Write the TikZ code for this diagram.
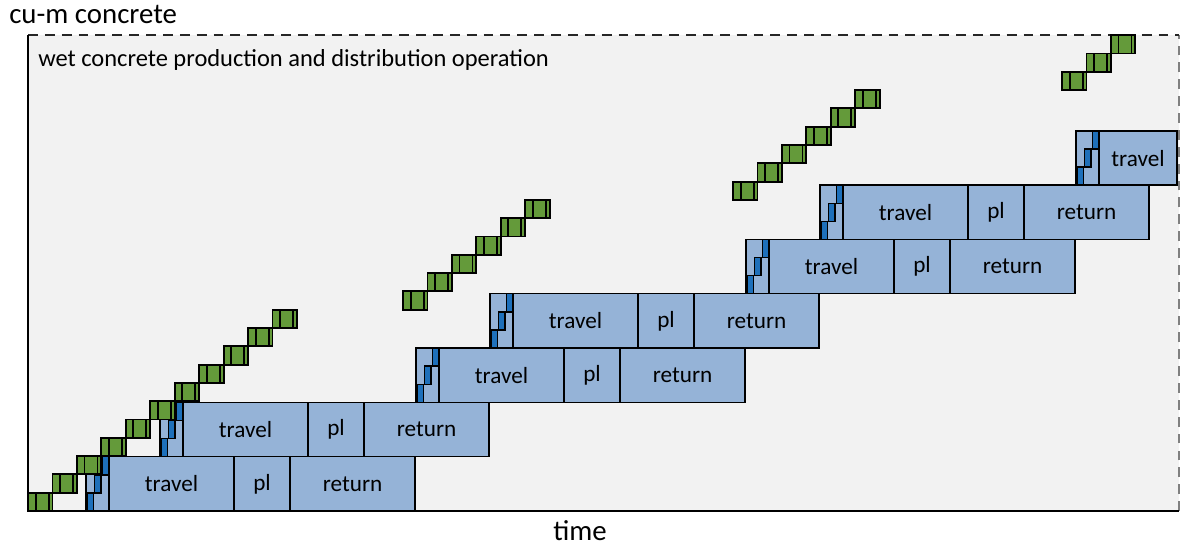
\documentclass[tikz,border=0pt]{standalone}
\usepackage{fontspec}
\setmainfont{Carlito}
\usepackage{xcolor}
\usetikzlibrary{positioning}

\definecolor{bgfill}{RGB}{242,242,242}
\definecolor{truckblue}{RGB}{149,179,215}
\definecolor{loadblue}{RGB}{30,112,186}
\definecolor{mixgreen}{RGB}{100,154,58}

\begin{document}
\begin{tikzpicture}[x=0.025cm, y=0.025cm,
    phase/.style={draw, line width=1pt, fill=truckblue, inner sep=0pt, outer sep=0pt,
      minimum height=1.3575cm, font=\fontsize{16.5}{18}\selectfont},
    loadbar/.style={draw, line width=1pt, fill=loadblue},
    batch/.style={draw, line width=1.3pt, fill=mixgreen},
    batchline/.style={line width=1.3pt},
    axislabel/.style={inner sep=0pt, font=\fontsize{20.5}{22}\selectfont}]
  \useasboundingbox (0,0) rectangle (1180,546);

  % chart area
  \fill[bgfill] (28,35) rectangle (1179,511);
  \draw[gray, line width=0.8pt, dash pattern=on 7pt off 5pt] (1179,35) -- (1179,511);
  \draw[black!85, line width=1.1pt, dash pattern=on 7pt off 5pt] (28,511) -- (1179,511);
  \draw[line width=1.2pt] (28,511) -- (28,35) -- (1179,35);

  \node[axislabel, anchor=west] (yl) at (9,532) {cu-m concrete};
  \node[axislabel, anchor=base] (xl) at (580,5) {time};
  \node[inner sep=0pt, anchor=west, font=\fontsize{17.4}{20}\selectfont] (title) at (38,486)
    {wet concrete production and distribution operation};

  % truck trips
  \foreach \k/\x in {1/86, 2/160, 3/416, 4/490, 5/746, 6/820} {
    \node[phase, minimum width=0.575cm, anchor=south west] (ld\k) at (\x,{35+54.3*(\k-1)}) {};
    \node[phase, minimum width=3.125cm, right=0pt of ld\k] (tr\k) {travel};
    \node[phase, minimum width=1.4cm, right=0pt of tr\k] (pl\k) {pl};
    \node[phase, minimum width=3.125cm, right=0pt of pl\k] (rt\k) {return};
    \draw[loadbar] ([shift={(1,0)}]ld\k.south west) rectangle ++(6.5,18.1);
    \draw[loadbar] ([shift={(8.5,18.1)}]ld\k.south west) rectangle ++(6.5,18.1);
    \draw[loadbar] ([shift={(16.5,36.2)}]ld\k.south west) rectangle ++(6.5,18.1);
  }
  \node[phase, minimum width=0.575cm, anchor=south west] (ld7) at (1076,360.8) {};
  \node[phase, minimum width=1.95cm, right=0pt of ld7] (tr7) {travel};
  \draw[loadbar] ([shift={(1,0)}]ld7.south west) rectangle ++(6.5,18.1);
  \draw[loadbar] ([shift={(8.5,18.1)}]ld7.south west) rectangle ++(6.5,18.1);
  \draw[loadbar] ([shift={(16.5,36.2)}]ld7.south west) rectangle ++(6.5,18.1);

  % production batches
  \foreach \first/\last/\x in {0/10/28, 11/16/403, 17/22/733, 23/25/1062} {
    \foreach \l in {\first,...,\last} {
      \pgfmathsetmacro\bx{\x+24.45*(\l-\first)}
      \pgfmathsetmacro\by{35+18.3*\l}
      \draw[batch] (\bx,\by) rectangle ++(24.5,18.3);
      \draw[batchline] (\bx+7.6,\by) -- ++(0,18.3) (\bx+20.6,\by) -- ++(0,18.3);
    }
  }
\end{tikzpicture}
\end{document}
